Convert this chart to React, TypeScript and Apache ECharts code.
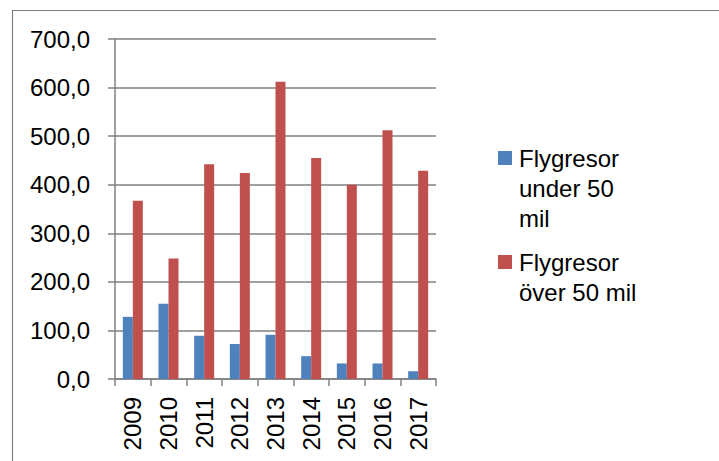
import React, { useEffect, useRef } from "react";
import * as echarts from "echarts";

const categories = ["2009", "2010", "2011", "2012", "2013", "2014", "2015", "2016", "2017"];
const under50 = [128, 155, 89, 72, 91, 47, 32, 32, 16];
const over50 = [367, 248, 442, 424, 612, 455, 400, 512, 429];
const seriesNames = ["Flygresor under 50 mil", "Flygresor över 50 mil"];
const legendLabels = ["Flygresor\nunder 50\nmil", "Flygresor\növer 50 mil"];

const FONT = "'Liberation Sans', Arial, sans-serif";
const GRAY = "#808080";
const FS = 24;

export default function App() {
  const ref = useRef<HTMLDivElement>(null);
  useEffect(() => {
    if (!ref.current) return;
    const chart = echarts.init(ref.current, null, { renderer: "svg" });
    const legendText = {
      fontFamily: FONT,
      fontSize: FS,
      lineHeight: 30,
      color: "#000",
      padding: [0, 0, 0, 2],
    };
    chart.setOption({
      animation: false,
      backgroundColor: "#fff",
      textStyle: { fontFamily: FONT },
      graphic: [
        {
          type: "rect",
          shape: { x: 12.5, y: 10.5, width: 720, height: 470 },
          style: { fill: "none", stroke: GRAY, lineWidth: 1.2 },
          silent: true,
        },
      ],
      grid: { left: 115, right: 283, top: 39, bottom: 82 },
      legend: [
        {
          data: [seriesNames[0]],
          orient: "vertical",
          left: 498,
          top: 143,
          padding: 0,
          itemWidth: 14,
          itemHeight: 74,
          icon: "path://M0,0H14V14H0Z M0,74H0.05V74.05H0Z",
          formatter: () => legendLabels[0],
          textStyle: legendText,
          selectedMode: false,
        },
        {
          data: [seriesNames[1]],
          orient: "vertical",
          left: 498,
          top: 247,
          padding: 0,
          itemWidth: 14,
          itemHeight: 44,
          icon: "path://M0,0H14V14H0Z M0,44H0.05V44.05H0Z",
          formatter: () => legendLabels[1],
          textStyle: legendText,
          selectedMode: false,
        },
      ],
      xAxis: {
        type: "category",
        data: categories,
        axisLine: { show: true, lineStyle: { color: GRAY, width: 1.5 } },
        axisTick: { show: true, length: 7, lineStyle: { color: GRAY, width: 1.5 } },
        axisLabel: {
          rotate: 90,
          margin: 18,
          fontSize: FS,
          fontFamily: FONT,
          color: "#000",
        },
      },
      yAxis: {
        type: "value",
        min: 0,
        max: 700,
        interval: 100,
        axisLine: { show: true, lineStyle: { color: GRAY, width: 1.5 } },
        axisTick: { show: true, length: 7, lineStyle: { color: GRAY, width: 1.5 } },
        splitLine: { show: true, lineStyle: { color: GRAY, width: 1.5 } },
        axisLabel: {
          margin: 25,
          fontSize: FS,
          fontFamily: FONT,
          color: "#000",
          formatter: (v: number) => v.toFixed(1).replace(".", ","),
        },
      },
      series: [
        {
          name: seriesNames[0],
          type: "bar",
          data: under50,
          barWidth: 10,
          barGap: "0%",
          itemStyle: { color: "#4F81BD" },
        },
        {
          name: seriesNames[1],
          type: "bar",
          data: over50,
          barWidth: 10,
          barGap: "0%",
          itemStyle: { color: "#C0504D" },
        },
      ],
    });
    return () => chart.dispose();
  }, []);
  return (
    <div
      ref={ref}
      style={{ position: "absolute", left: 0, top: 0, width: 719, height: 461 }}
    />
  );
}
